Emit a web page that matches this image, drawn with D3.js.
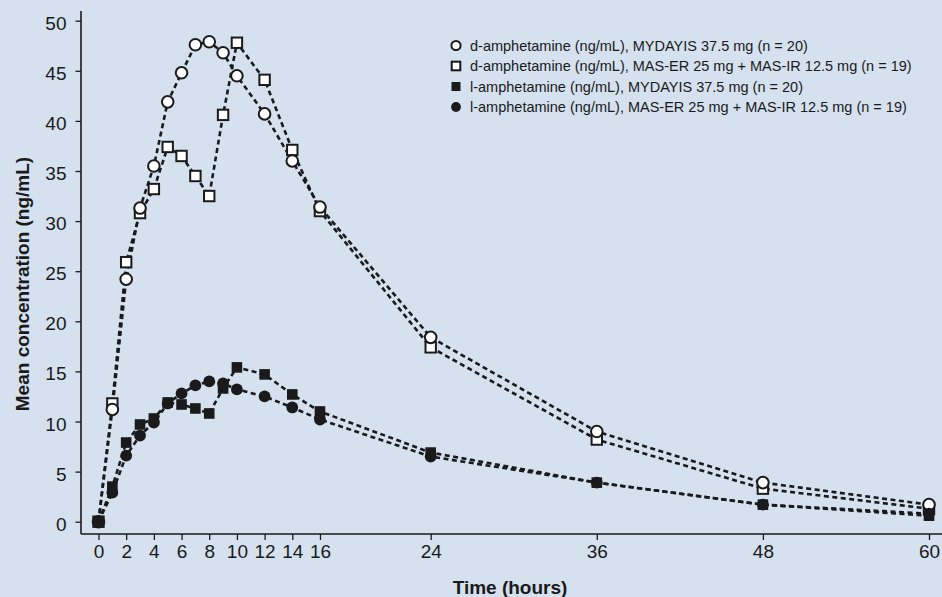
<!DOCTYPE html>
<html lang="en">
<head>
    <meta charset="UTF-8">
    <title>Mean concentration</title>
    <script src="https://cdn.jsdelivr.net/npm/d3@7"></script>
    <style>
        body { margin: 0; background: #d5e1ef; }
        svg { display: block; font-family: "Liberation Sans", Arial, Helvetica, sans-serif; }
    </style>
</head>
<body>
<div id="my_dataviz"></div>
<script>

    // time points (hours)
    const times = [0, 1, 2, 3, 4, 5, 6, 7, 8, 9, 10, 12, 14, 16, 24, 36, 48, 60];
    const xTicks = [0, 2, 4, 6, 8, 10, 12, 14, 16, 24, 36, 48, 60];
    const yTicks = [0, 5, 10, 15, 20, 25, 30, 35, 40, 45, 50];

    // mean concentrations (ng/mL)
    const dMydayis = [0, 11.2, 24.2, 31.3, 35.5, 41.9, 44.8, 47.6, 47.9, 46.8, 44.5, 40.7, 36.0, 31.4, 18.4, 9.0, 3.9, 1.7];
    const dMas = [0, 11.8, 25.9, 30.8, 33.2, 37.4, 36.5, 34.5, 32.5, 40.6, 47.8, 44.1, 37.1, 31.0, 17.4, 8.2, 3.3, 1.3];
    const lMydayis = [0, 3.5, 7.9, 9.7, 10.3, 11.9, 11.7, 11.3, 10.8, 13.3, 15.4, 14.7, 12.7, 11.0, 6.9, 3.9, 1.7, 0.6];
    const lMas = [0, 2.9, 6.6, 8.6, 9.9, 11.8, 12.8, 13.6, 14.0, 13.8, 13.2, 12.5, 11.4, 10.2, 6.5, 3.9, 1.7, 0.8];

    const labels = [
        "d-amphetamine (ng/mL), MYDAYIS 37.5 mg (n = 20)",
        "d-amphetamine (ng/mL), MAS-ER 25 mg + MAS-IR 12.5 mg (n = 19)",
        "l-amphetamine (ng/mL), MYDAYIS 37.5 mg (n = 20)",
        "l-amphetamine (ng/mL), MAS-ER 25 mg + MAS-IR 12.5 mg (n = 19)"
    ];

    const width = 942, height = 597;
    const ink = "#1a1a1a";

    // legend order and drawing order differ: open squares, open circles, filled squares, filled circles
    const series = [
        {name: labels[0], values: dMydayis, shape: "circle", fill: "#fff", order: 1},
        {name: labels[1], values: dMas, shape: "square", fill: "#fff", order: 0},
        {name: labels[2], values: lMydayis, shape: "square", fill: ink, order: 2},
        {name: labels[3], values: lMas, shape: "circle", fill: ink, order: 3}
    ];

    const svg = d3.select("#my_dataviz")
        .append("svg")
        .attr("width", width)
        .attr("height", height);

    svg.append("rect")
        .attr("width", width)
        .attr("height", height)
        .attr("fill", "#d5e1ef");

    const axisX = 81, axisY = 534;

    const x = d3.scaleLinear()
        .domain([0, 60])
        .range([98.5, 929]);

    const y = d3.scaleLinear()
        .domain([0, 50])
        .range([521.7, 20.7]);

    // y axis
    const yAxis = d3.axisLeft(y)
        .tickValues(yTicks)
        .tickSize(5.5)
        .tickSizeOuter(0)
        .tickPadding(9);
    const gy = svg.append("g")
        .attr("transform", "translate(" + axisX + ",0)")
        .call(yAxis);
    gy.select(".domain").remove();
    gy.selectAll(".tick line").attr("stroke", ink).attr("stroke-width", 1.3);
    gy.selectAll(".tick text")
        .attr("fill", ink)
        .attr("dy", "0.45em")
        .style("font-size", "19px");

    // x axis
    const xAxis = d3.axisBottom(x)
        .tickValues(xTicks)
        .tickSize(6)
        .tickSizeOuter(0)
        .tickPadding(5);
    const gx = svg.append("g")
        .attr("transform", "translate(0," + axisY + ")")
        .call(xAxis);
    gx.select(".domain").remove();
    gx.selectAll(".tick line").attr("stroke", ink).attr("stroke-width", 1.3);
    gx.selectAll(".tick text")
        .attr("fill", ink)
        .style("font-size", "19px");

    // axis lines
    svg.append("line")
        .attr("x1", axisX).attr("x2", axisX)
        .attr("y1", 11).attr("y2", axisY)
        .attr("stroke", ink).attr("stroke-width", 1.6);
    svg.append("line")
        .attr("x1", axisX).attr("x2", width)
        .attr("y1", axisY).attr("y2", axisY)
        .attr("stroke", ink).attr("stroke-width", 1.6);

    // axis titles
    svg.append("text")
        .attr("transform", "translate(29,284) rotate(-90)")
        .attr("text-anchor", "middle")
        .attr("fill", ink)
        .style("font-size", "19px")
        .style("font-weight", "bold")
        .text("Mean concentration (ng/mL)");

    svg.append("text")
        .attr("x", 510)
        .attr("y", 593.5)
        .attr("text-anchor", "middle")
        .attr("fill", ink)
        .style("font-size", "19px")
        .style("font-weight", "bold")
        .text("Time (hours)");

    // lines
    const line = d3.line()
        .x((d, i) => x(times[i]))
        .y(d => y(d));

    const drawOrder = series.slice().sort((a, b) => a.order - b.order);

    svg.selectAll(".curve")
        .data(drawOrder)
        .enter()
        .append("path")
        .attr("class", "curve")
        .attr("d", d => line(d.values))
        .attr("fill", "none")
        .attr("stroke", ink)
        .attr("stroke-width", 2.6)
        .attr("stroke-dasharray", "5,3.5");

    // markers
    function drawMarker(g, s, big) {
        const open = s.fill === "#fff";
        if (s.shape === "circle") {
            g.append("circle")
                .attr("r", open ? (big ? 5.8 : 4.6) : (big ? 5.9 : 4.9))
                .attr("fill", s.fill)
                .attr("stroke", ink)
                .attr("stroke-width", open ? 2 : 0);
        } else {
            const side = open ? (big ? 10.4 : 8.6) : (big ? 10.6 : 9);
            g.append("rect")
                .attr("x", -side / 2)
                .attr("y", -side / 2)
                .attr("width", side)
                .attr("height", side)
                .attr("fill", s.fill)
                .attr("stroke", ink)
                .attr("stroke-width", open ? 2 : 0);
        }
    }

    drawOrder.forEach(s => {
        svg.append("g")
            .selectAll("g")
            .data(s.values)
            .enter()
            .append("g")
            .attr("transform", (d, i) => "translate(" + x(times[i]) + "," + y(d) + ")")
            .each(function () { drawMarker(d3.select(this), s, true); });
    });

    // legend
    const legendY = [45.5, 66, 86.5, 107];
    const legend = svg.selectAll(".legend")
        .data(series)
        .enter()
        .append("g")
        .attr("class", "legend")
        .attr("transform", (d, i) => "translate(456," + legendY[i] + ")");

    legend.each(function (d) { drawMarker(d3.select(this), d, false); });

    legend.append("text")
        .attr("x", 14)
        .attr("dy", "0.36em")
        .attr("fill", ink)
        .style("font-size", "14.5px")
        .text(d => d.name);

</script>
</body>
</html>
